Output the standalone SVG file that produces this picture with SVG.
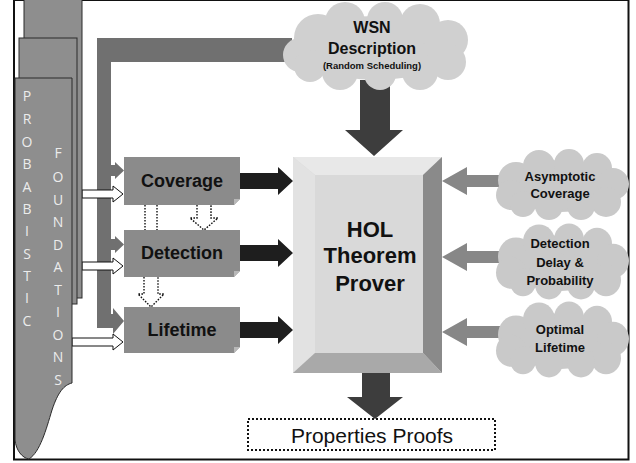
<svg xmlns="http://www.w3.org/2000/svg" width="636" height="463" viewBox="0 0 636 463">
<style>
.lbl{font-family:"Liberation Sans",Arial,sans-serif;font-weight:bold;fill:#111;text-anchor:middle}
.vert{font-family:"Open Sans","Liberation Sans",sans-serif;font-size:14px;fill:#ececec;text-anchor:middle}
.box{fill:#8b8b8b}
.fold{fill:#b8b8b8}
.blk{fill:#1e1e1e}
.gry{fill:#878787}
.dark{fill:#3d3d3d}
.hollow{fill:#fff;stroke:#111;stroke-width:1}
.dot{fill:#fff;stroke:#111;stroke-width:1.4;stroke-dasharray:1.6 1.4}
.cloud{fill:#c9c9c9}
.fnd{fill:#8e8e8e;stroke:#2a2a2a;stroke-width:1}
</style>
<defs>
<linearGradient id="fg" x1="0" y1="0" x2="0" y2="1">
<stop offset="0" stop-color="#9a9a9a"/>
<stop offset="1" stop-color="#777"/>
</linearGradient>
<g id="cl">
<ellipse cx="0" cy="1" rx="55" ry="26"/>
<circle cx="-45" cy="-5" r="18"/>
<circle cx="-50" cy="10" r="15"/>
<circle cx="-22" cy="-19" r="16"/>
<circle cx="8" cy="-21" r="15"/>
<circle cx="36" cy="-17" r="15"/>
<circle cx="52" cy="-1" r="16"/>
<circle cx="45" cy="17" r="15"/>
<circle cx="20" cy="21" r="14"/>
<circle cx="-12" cy="21" r="14"/>
<circle cx="-38" cy="19" r="13"/>
</g>
</defs>
<rect x="0" y="0" width="636" height="463" fill="#fff"/>
<rect x="14" y="0" width="614.5" height="459.5" fill="none" stroke="#111" stroke-width="2"/>

<g id="connectors">
<path style="fill:#707070" d="M292,38 H97 V328 H113 V334 L124,321 L113,308 V314 H111 V62 H292 Z"/>
<path style="fill:#707070" d="M111,165 H115 V162 L124,170.5 L115,179 V176 H111 Z"/>
<path style="fill:#707070" d="M111,239 H115 V236 L124,244.5 L115,253 V250 H111 Z"/>
<path class="hollow" d="M82,190 H113 V186 L123,194 L113,202 V198 H82 Z"/>
<path class="hollow" d="M82,262 H113 V258 L123,266 L113,274 V270 H82 Z"/>
<path class="hollow" d="M72,338 H113 V334 L123,342 L113,350 V346 H72 Z"/>
<path class="dot" d="M145,205 V230 M157,205 V230"/>
<path class="dot" d="M197,205 V218 H190 L204,230 L218,218 H211 V205"/>
<path class="dot" d="M144,277 V294 H138 L151,307 L164,294 H158 V277"/>
<path class="blk" d="M240,173 H278 V167 L293,181 L278,195 V189 H240 Z"/>
<path class="blk" d="M240,245 H278 V239 L293,253 L278,267 V261 H240 Z"/>
<path class="blk" d="M240,322 H278 V316 L293,330 L278,344 V338 H240 Z"/>
<path class="gry" d="M520,175 H467 V167 L442,181 L467,195 V187 H520 Z"/>
<path class="gry" d="M520,251 H467 V243 L442,257 L467,271 V263 H520 Z"/>
<path class="gry" d="M520,326 H467 V318 L442,332 L467,346 V338 H520 Z"/>
<path class="dark" d="M360,80 H390 V130 H403 L374,156 L345,130 H360 Z"/>
<path class="dark" d="M362,372 H390 V397 H403 L375,419 L347,397 H362 Z"/>
</g>

<g id="foundations">
<rect class="fnd" x="24" y="-2" width="58" height="300" fill="url(#fg)"/>
<rect class="fnd" x="19" y="38" width="58" height="266" fill="url(#fg)"/>
<path class="fnd" fill="url(#fg)" d="M15,78 H72 V383 C64,385 58,392 52,410 C46,430 40,452 29,459 C22,458 16,450 15,440 Z"/>
<g class="vert">
<text x="27" y="101">P</text><text x="27" y="124">R</text><text x="27" y="147">O</text>
<text x="27" y="169">B</text><text x="27" y="192">A</text><text x="27" y="214">B</text>
<text x="27" y="236">I</text><text x="27" y="259">S</text><text x="27" y="281">T</text>
<text x="27" y="303">I</text><text x="27" y="326">C</text>
<text x="58" y="158">F</text><text x="58" y="182">O</text><text x="58" y="205">U</text>
<text x="58" y="227">N</text><text x="58" y="250">D</text><text x="58" y="272">A</text>
<text x="58" y="295">T</text><text x="58" y="317">I</text><text x="58" y="340">O</text>
<text x="58" y="362">N</text><text x="58" y="385">S</text>
</g>
</g>

<g id="wsn">
<g class="cloud" style="fill:#d0d0d0">
<ellipse cx="376" cy="48" rx="78" ry="32"/>
<circle cx="318" cy="38" r="24"/>
<circle cx="300" cy="55" r="17"/>
<circle cx="345" cy="22" r="20"/>
<circle cx="385" cy="20" r="18"/>
<circle cx="420" cy="24" r="20"/>
<circle cx="448" cy="40" r="20"/>
<circle cx="448" cy="62" r="18"/>
<circle cx="420" cy="72" r="18"/>
<circle cx="380" cy="74" r="16"/>
<circle cx="340" cy="72" r="18"/>
<circle cx="310" cy="66" r="16"/>
</g>
<text class="lbl" x="372" y="33" font-size="16">WSN</text>
<text class="lbl" x="372" y="54" font-size="16">Description</text>
<text class="lbl" x="372" y="69" font-size="9.5">(Random Scheduling)</text>
</g>

<g id="coverage">
<path class="box" d="M124,157 H240 V199 L234,205 H124 Z"/>
<path class="fold" d="M234,205 L240,199 H234 Z"/>
<text class="lbl" x="182" y="187" font-size="18">Coverage</text>
</g>
<g id="detection">
<path class="box" d="M124,230 H240 V271 L234,277 H124 Z"/>
<path class="fold" d="M234,277 L240,271 H234 Z"/>
<text class="lbl" x="182" y="259" font-size="18">Detection</text>
</g>
<g id="lifetime">
<path class="box" d="M124,307 H240 V347 L234,353 H124 Z"/>
<path class="fold" d="M234,353 L240,347 H234 Z"/>
<text class="lbl" x="182" y="336" font-size="18">Lifetime</text>
</g>

<g id="hol">
<rect x="293" y="157" width="149" height="216" fill="#d9d9d9"/>
<path d="M293,157 H442 L423,175 H315 Z" fill="#e8e8e8"/>
<path d="M293,157 L315,175 V353 L293,373 Z" fill="#e2e2e2"/>
<path d="M442,157 V373 L423,353 V175 Z" fill="#8a8a8a"/>
<path d="M293,373 L315,353 H423 L442,373 Z" fill="#a9a9a9"/>
<text class="lbl" x="370" y="237" font-size="22">HOL</text>
<text class="lbl" x="370" y="263" font-size="22">Theorem</text>
<text class="lbl" x="370" y="291" font-size="22">Prover</text>
</g>

<g id="asymptotic">
<use href="#cl" class="cloud" transform="translate(561,185)"/>
<text class="lbl" x="560" y="181" font-size="13">Asymptotic</text>
<text class="lbl" x="560" y="198" font-size="13">Coverage</text>
</g>
<g id="detdelay">
<use href="#cl" class="cloud" transform="translate(561,262) scale(1,1.07)"/>
<text class="lbl" x="560" y="248" font-size="13">Detection</text>
<text class="lbl" x="560" y="267" font-size="13">Delay &amp;</text>
<text class="lbl" x="560" y="285" font-size="13">Probability</text>
</g>
<g id="optimal">
<use href="#cl" class="cloud" transform="translate(561,340) scale(1,1.07)"/>
<text class="lbl" x="560" y="334" font-size="13">Optimal</text>
<text class="lbl" x="560" y="352" font-size="13">Lifetime</text>
</g>

<g id="proofs">
<rect x="248" y="419" width="247" height="31" fill="#fff" stroke="#111" stroke-width="2" stroke-dasharray="2 2"/>
<text x="372" y="443" font-family="Liberation Sans,Arial,sans-serif" font-size="21" fill="#111" text-anchor="middle">Properties Proofs</text>
</g>
</svg>
